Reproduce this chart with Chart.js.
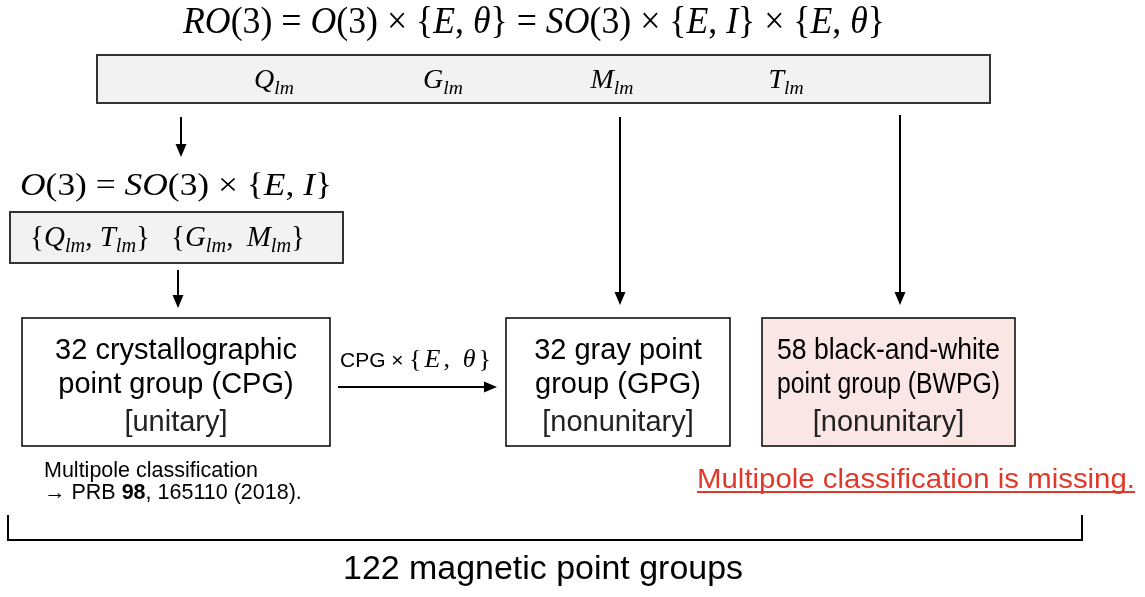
<!DOCTYPE html>
<html><head><meta charset="utf-8">
<script src="https://cdn.jsdelivr.net/npm/chart.js@4.4.1/dist/chart.umd.min.js"></script>
<style>html,body{margin:0;padding:0;background:#fff}canvas{display:block}</style>
</head><body>
<canvas id="c" width="1145" height="597"></canvas>
<script>
// ---- content (text only) ----
const titleFormula = "RO(3) = O(3) × {E, θ} = SO(3) × {E, I} × {E, θ}";
const multipoles = ["Q_{lm}", "G_{lm}", "M_{lm}", "T_{lm}"];
const o3Formula = "O(3) = SO(3) × {E, I}";
const o3Sets = ["{Q_{lm}, T_{lm}}", "{G_{lm}, M_{lm}}"];
const groupCounts = [32, 32, 58];
const groupLine1 = ["crystallographic", "gray point", "black-and-white"];
const groupLine2 = ["point group (CPG)", "group (GPG)", "point group (BWPG)"];
const groupTypes = ["[unitary]", "[nonunitary]", "[nonunitary]"];
const arrowLabelSans = "CPG ×";
const arrowLabelMath = "{E, θ}";
const cpgNote = ["Multipole classification", "→ PRB ", "98", ", 165110 (2018)."];
const missingNote = "Multipole classification is missing.";
const totalCount = 122;
const totalLabel = "magnetic point groups";

// ---- layout (diagram coordinates, in scale units) ----
const L = {
  title: {cx: 534, base: 33, size: 38, w: 702},
  topBox: {x0: 97, y0: 55, x1: 990, y1: 103},
  multX: [274, 443, 612, 786], multBase: 88, multSize: 28,
  o3: {cx: 176, base: 195, size: 32, w: 312},
  setBox: {x0: 10, y0: 212, x1: 343, y1: 263},
  setX: [90, 238], setW: [null, 134], setBase: 246, setSize: 29,
  boxes: [{x0: 22, x1: 330}, {x0: 506, x1: 730}, {x0: 762, x1: 1015}], boxY0: 318, boxY1: 446,
  lineBase: [359, 393, 431], boxFont: 29, boxTextMargin: 15,
  arrows: [
    [181, 117, 181, 157], [178, 270, 178, 308], [620, 117, 620, 305], [900, 115, 900, 305], [338, 387, 497, 387]
  ],
  arrowLabel: {x: 340, base: 367, size: 21, mathX: 409, mathW: 82, mathSize: 26},
  note: {x: 44, base: [477, 499], size: 21.5},
  missing: {cx: 916, base: 488, size: 28, w: 438},
  bracket: {x0: 8, x1: 1082, y0: 515, y1: 540},
  total: {cx: 543, base: 579, size: 33, w: 400}
};

const SERIF = '"Liberation Serif", "Times New Roman", serif';
const SANS = '"Liberation Sans", Arial, Helvetica, sans-serif';

function mathTokens(s) {
  const out = [];
  let i = 0;
  while (i < s.length) {
    const ch = s[i];
    if (ch === '_' && s[i + 1] === '{') {
      const j = s.indexOf('}', i);
      out.push({t: s.slice(i + 2, j), k: 'sub'});
      i = j + 1; continue;
    }
    if (/[A-Za-zθ]/.test(ch)) out.push({t: ch, k: 'it'});
    else if (ch === ' ') out.push({t: ' ', k: 'sp'});
    else out.push({t: ch, k: 'rm'});
    i++;
  }
  return out;
}
function tokFont(k, size) {
  if (k === 'it') return 'italic ' + size + 'px ' + SERIF;
  if (k === 'sub') return 'italic ' + (size * 0.7).toFixed(1) + 'px ' + SERIF;
  return size + 'px ' + SERIF;
}
function measureMath(ctx, toks, size) {
  let w = 0;
  toks.forEach(tk => {
    if (tk.k === 'sp') { tk.w = size * 0.25; w += tk.w; return; }
    ctx.font = tokFont(tk.k, size);
    tk.w = ctx.measureText(tk.t).width;
    w += tk.w;
  });
  return w;
}
// mode 'scale': stretch glyphs to targetW; 'space': spread extra over all gaps; 'spaceOnly': extra into space tokens
function drawMath(ctx, s, size, x, base, align, targetW, mode) {
  const toks = mathTokens(s);
  const w = measureMath(ctx, toks, size);
  let sx = 1, totalW = w;
  if (targetW && mode === 'space') {
    const g = (targetW - w) / (toks.length - 1);
    toks.forEach((tk, i) => { if (i < toks.length - 1) tk.w += g; });
    totalW = targetW;
  } else if (targetW && mode === 'spaceOnly') {
    const sps = toks.filter(tk => tk.k === 'sp');
    sps.forEach(tk => { tk.w += (targetW - w) / sps.length; });
    totalW = targetW;
  } else if (targetW) { sx = targetW / w; }
  ctx.save();
  ctx.translate(x, base);
  ctx.scale(sx, 1);
  let cx = align === 'left' ? 0 : -totalW / 2;
  if (mode === 'scale' && align !== 'left') cx = -w / 2;
  ctx.textBaseline = 'alphabetic';
  ctx.textAlign = 'left';
  toks.forEach(tk => {
    if (tk.k !== 'sp') {
      ctx.font = tokFont(tk.k, size);
      ctx.fillText(tk.t, cx, tk.k === 'sub' ? size * 0.22 : 0);
    }
    cx += tk.w;
  });
  ctx.restore();
  return totalW * sx;
}
function drawFit(ctx, text, font, cx, base, targetW, maxW) {
  ctx.save();
  ctx.font = font;
  const w = ctx.measureText(text).width;
  let sx = targetW ? targetW / w : 1;
  if (maxW && w > maxW) sx = maxW / w;
  ctx.translate(cx, base);
  ctx.scale(sx, 1);
  ctx.textAlign = 'center';
  ctx.textBaseline = 'alphabetic';
  ctx.fillText(text, 0, 0);
  ctx.restore();
  return w * sx;
}
function arrow(ctx, x0, y0, x1, y1) {
  const ang = Math.atan2(y1 - y0, x1 - x0), hl = 13, hw = 5.5;
  ctx.beginPath();
  ctx.moveTo(x0, y0);
  ctx.lineTo(x1 - Math.cos(ang) * hl * 0.8, y1 - Math.sin(ang) * hl * 0.8);
  ctx.stroke();
  ctx.beginPath();
  ctx.moveTo(x1, y1);
  ctx.lineTo(x1 - Math.cos(ang) * hl - Math.sin(ang) * hw, y1 - Math.sin(ang) * hl + Math.cos(ang) * hw);
  ctx.lineTo(x1 - Math.cos(ang) * hl + Math.sin(ang) * hw, y1 - Math.sin(ang) * hl - Math.cos(ang) * hw);
  ctx.closePath();
  ctx.fill();
}

const diagramPlugin = {
  id: 'diagram',
  afterDraw(chart) {
    const ctx = chart.ctx;
    const X = v => chart.scales.x.getPixelForValue(v);
    const Y = v => chart.scales.y.getPixelForValue(v);
    ctx.save();
    ctx.fillStyle = '#000';
    ctx.strokeStyle = '#000';

    // title
    drawMath(ctx, titleFormula, L.title.size, X(L.title.cx), Y(L.title.base), 'center', L.title.w, 'scale');

    // top box
    const tb = L.topBox;
    ctx.fillStyle = '#f2f2f2';
    ctx.fillRect(X(tb.x0), Y(tb.y0), X(tb.x1) - X(tb.x0), Y(tb.y1) - Y(tb.y0));
    ctx.lineWidth = 2; ctx.strokeStyle = '#333';
    ctx.strokeRect(X(tb.x0), Y(tb.y0), X(tb.x1) - X(tb.x0), Y(tb.y1) - Y(tb.y0));
    ctx.fillStyle = '#000';
    multipoles.forEach((m, i) => drawMath(ctx, m, L.multSize, X(L.multX[i]), Y(L.multBase), 'center'));

    // O(3)
    drawMath(ctx, o3Formula, L.o3.size, X(L.o3.cx), Y(L.o3.base), 'center', L.o3.w, 'scale');

    // set box
    const sb = L.setBox;
    ctx.fillStyle = '#f2f2f2';
    ctx.fillRect(X(sb.x0), Y(sb.y0), X(sb.x1) - X(sb.x0), Y(sb.y1) - Y(sb.y0));
    ctx.strokeRect(X(sb.x0), Y(sb.y0), X(sb.x1) - X(sb.x0), Y(sb.y1) - Y(sb.y0));
    ctx.fillStyle = '#000';
    o3Sets.forEach((m, i) => drawMath(ctx, m, L.setSize, X(L.setX[i]), Y(L.setBase), 'center', L.setW[i], 'spaceOnly'));

    // group boxes
    ctx.strokeStyle = '#111'; ctx.lineWidth = 1.6;
    L.boxes.forEach((b, i) => {
      const x0 = X(b.x0), x1 = X(b.x1), y0 = Y(L.boxY0), y1 = Y(L.boxY1);
      ctx.fillStyle = i === 2 ? '#fbe6e6' : '#ffffff';
      ctx.fillRect(x0, y0, x1 - x0, y1 - y0);
      ctx.strokeRect(x0, y0, x1 - x0, y1 - y0);
      ctx.fillStyle = '#000';
      const cx = (x0 + x1) / 2;
      const maxW = (x1 - x0) - 2 * L.boxTextMargin;
      const f = L.boxFont + 'px ' + SANS;
      drawFit(ctx, groupCounts[i] + ' ' + groupLine1[i], f, cx, Y(L.lineBase[0]), null, maxW);
      drawFit(ctx, groupLine2[i], f, cx, Y(L.lineBase[1]), null, maxW);
      ctx.fillStyle = '#222';
      drawFit(ctx, groupTypes[i], f, cx, Y(L.lineBase[2]), null, maxW);
    });

    // arrows
    ctx.fillStyle = '#000'; ctx.strokeStyle = '#000'; ctx.lineWidth = 2;
    L.arrows.forEach(a => arrow(ctx, X(a[0]), Y(a[1]), X(a[2]), Y(a[3])));

    // arrow label
    const al = L.arrowLabel;
    ctx.font = al.size + 'px ' + SANS;
    ctx.textAlign = 'left'; ctx.textBaseline = 'alphabetic';
    ctx.fillText(arrowLabelSans, X(al.x), Y(al.base));
    drawMath(ctx, arrowLabelMath, al.mathSize, X(al.mathX), Y(al.base), 'left', al.mathW, 'space');

    // note under CPG
    ctx.font = L.note.size + 'px ' + SANS;
    ctx.textAlign = 'left';
    ctx.fillText(cpgNote[0], X(L.note.x), Y(L.note.base[0]));
    let nx = X(L.note.x);
    ctx.fillText(cpgNote[1], nx, Y(L.note.base[1]));
    nx += ctx.measureText(cpgNote[1]).width;
    ctx.font = 'bold ' + L.note.size + 'px ' + SANS;
    ctx.fillText(cpgNote[2], nx, Y(L.note.base[1]));
    nx += ctx.measureText(cpgNote[2]).width;
    ctx.font = L.note.size + 'px ' + SANS;
    ctx.fillText(cpgNote[3], nx, Y(L.note.base[1]));

    // missing note (red, underlined)
    ctx.fillStyle = '#e0392b'; ctx.strokeStyle = '#e0392b';
    const mw = drawFit(ctx, missingNote, L.missing.size + 'px ' + SANS, X(L.missing.cx), Y(L.missing.base), L.missing.w);
    ctx.lineWidth = 1.8;
    ctx.beginPath();
    ctx.moveTo(X(L.missing.cx) - mw / 2, Y(L.missing.base) + 4);
    ctx.lineTo(X(L.missing.cx) + mw / 2, Y(L.missing.base) + 4);
    ctx.stroke();

    // bracket
    const br = L.bracket;
    ctx.strokeStyle = '#000'; ctx.lineWidth = 2;
    ctx.beginPath();
    ctx.moveTo(X(br.x0), Y(br.y0));
    ctx.lineTo(X(br.x0), Y(br.y1));
    ctx.lineTo(X(br.x1), Y(br.y1));
    ctx.lineTo(X(br.x1), Y(br.y0));
    ctx.stroke();

    // total
    ctx.fillStyle = '#000';
    drawFit(ctx, totalCount + ' ' + totalLabel, L.total.size + 'px ' + SANS, X(L.total.cx), Y(L.total.base), L.total.w);
    ctx.restore();
  }
};

new Chart(document.getElementById('c'), {
  type: 'scatter',
  data: {datasets: [{data: [], pointRadius: 0}]},
  options: {
    responsive: false, animation: false, devicePixelRatio: 1, events: [],
    layout: {padding: 0},
    plugins: {legend: {display: false}, tooltip: {enabled: false}},
    scales: {
      x: {type: 'linear', min: 0, max: 1145, display: false},
      y: {type: 'linear', min: 0, max: 597, reverse: true, display: false}
    }
  },
  plugins: [diagramPlugin]
});
</script>
</body></html>
